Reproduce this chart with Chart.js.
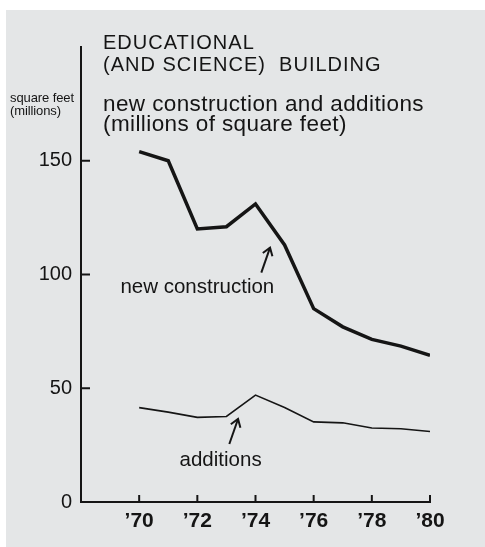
<!DOCTYPE html>
<html>
<head>
<meta charset="utf-8">
<script src="https://cdn.jsdelivr.net/npm/chart.js@4.4.1/dist/chart.umd.min.js"></script>
<style>
  body { margin: 0; background: #fff; }
  #wrap { position: relative; width: 485px; height: 547px; overflow: hidden; }
  #paper { position: absolute; left: 6px; top: 10px; right: 0; bottom: 0; background: #e4e6e7; }
  canvas { position: absolute; left: 0; top: 0; }
  .txt { position: absolute; font-family: "Liberation Sans", Arial, sans-serif; color: #151515; white-space: nowrap; }
  #title { left: 103px; top: 31px; font-size: 20px; line-height: 22.4px; letter-spacing: 1px; }
  #subtitle { left: 103px; top: 94px; font-size: 22.5px; line-height: 19.5px; letter-spacing: 0.4px; }
  #unit { left: 10px; top: 92px; font-size: 13px; line-height: 12.5px; letter-spacing: -0.1px; }
</style>
</head>
<body>
<div id="wrap">
  <div id="paper"></div>
  <canvas id="myChart" width="485" height="547"></canvas>
  <div class="txt" id="title">EDUCATIONAL<br>(AND SCIENCE)&nbsp; BUILDING</div>
  <div class="txt" id="subtitle">new construction and additions<br>(millions of square feet)</div>
  <div class="txt" id="unit">square feet<br>(millions)</div>
</div>
<script>
"use strict";

const years = [1970, 1971, 1972, 1973, 1974, 1975, 1976, 1977, 1978, 1979, 1980];
const newConstruction = [154, 150, 120, 121, 131, 113, 85, 77, 71.5, 68.5, 64.5];
const additions = [41.5, 39.5, 37.2, 37.6, 47, 41.5, 35.2, 34.8, 32.5, 32.2, 31];
const xTicks = [1970, 1972, 1974, 1976, 1978, 1980];
const yTicks = [0, 50, 100, 150];

const ink = "#151515";
const font = "'Liberation Sans', Arial, sans-serif";

// tick marks pointing into the plot, like the printed chart
const innerTicks = {
  id: "innerTicks",
  afterDraw(chart) {
    const ctx = chart.ctx;
    const x = chart.scales.x;
    const y = chart.scales.y;
    ctx.save();
    ctx.strokeStyle = ink;
    ctx.lineWidth = 2;
    yTicks.forEach((v) => {
      if (v === 0) return;
      const py = y.getPixelForValue(v);
      ctx.beginPath();
      ctx.moveTo(x.left, py);
      ctx.lineTo(x.left + 9, py);
      ctx.stroke();
    });
    xTicks.forEach((v) => {
      const px = x.getPixelForValue(v);
      ctx.beginPath();
      ctx.moveTo(px, y.bottom);
      ctx.lineTo(px, y.bottom - 7);
      ctx.stroke();
    });
    ctx.restore();
  },
};

// labels with little arrows
const notes = [
  { text: "new construction", at: [1972.0, 94.5], tail: [1974.2, 100.8], tip: [1974.5, 111.8] },
  { text: "additions", at: [1972.8, 18.5], tail: [1973.1, 25.5], tip: [1973.4, 36.5] },
];

const noteLabels = {
  id: "noteLabels",
  afterDraw(chart) {
    const ctx = chart.ctx;
    const x = chart.scales.x;
    const y = chart.scales.y;
    ctx.save();
    ctx.fillStyle = ink;
    ctx.strokeStyle = ink;
    ctx.font = "20.5px " + font;
    ctx.textAlign = "center";
    ctx.textBaseline = "middle";
    notes.forEach((n) => {
      ctx.fillText(n.text, x.getPixelForValue(n.at[0]), y.getPixelForValue(n.at[1]));
      const x0 = x.getPixelForValue(n.tail[0]);
      const y0 = y.getPixelForValue(n.tail[1]);
      const x1 = x.getPixelForValue(n.tip[0]);
      const y1 = y.getPixelForValue(n.tip[1]);
      ctx.lineWidth = 2;
      ctx.beginPath();
      ctx.moveTo(x0, y0);
      ctx.lineTo(x1, y1);
      ctx.stroke();
      const a = Math.atan2(y1 - y0, x1 - x0);
      ctx.beginPath();
      ctx.moveTo(x1 - 9 * Math.cos(a - 0.6), y1 - 9 * Math.sin(a - 0.6));
      ctx.lineTo(x1, y1);
      ctx.lineTo(x1 - 9 * Math.cos(a + 0.6), y1 - 9 * Math.sin(a + 0.6));
      ctx.stroke();
    });
    ctx.restore();
  },
};

const ctx = document.getElementById("myChart");
const myChart = new Chart(ctx, {
  type: "line",
  data: {
    datasets: [
      {
        label: "new construction",
        data: years.map((yr, i) => ({ x: yr, y: newConstruction[i] })),
        borderColor: ink,
        borderWidth: 3.5,
        pointRadius: 0,
        borderJoinStyle: "miter",
      },
      {
        label: "additions",
        data: years.map((yr, i) => ({ x: yr, y: additions[i] })),
        borderColor: ink,
        borderWidth: 1.6,
        pointRadius: 0,
      },
    ],
  },
  options: {
    responsive: false,
    animation: false,
    layout: { padding: { top: 47, right: 55, left: 0, bottom: 0 } },
    plugins: {
      legend: { display: false },
      tooltip: { enabled: false },
    },
    scales: {
      x: {
        type: "linear",
        min: 1968,
        max: 1980,
        afterBuildTicks: (s) => {
          s.ticks = xTicks.map((v) => ({ value: v }));
        },
        afterFit: (s) => {
          s.height = 45;
        },
        grid: { display: false, drawTicks: false, tickLength: 0 },
        border: { display: true, color: ink, width: 2 },
        ticks: {
          color: ink,
          padding: 7,
          font: { family: font, size: 21, weight: "bold" },
          callback: (v) => "\u2019" + String(v).slice(2),
        },
      },
      y: {
        min: 0,
        max: 200,
        afterBuildTicks: (s) => {
          s.ticks = yTicks.map((v) => ({ value: v }));
        },
        afterFit: (s) => {
          s.width = 81;
        },
        grid: { display: false, drawTicks: false, tickLength: 0 },
        border: { display: true, color: ink, width: 2 },
        ticks: {
          color: ink,
          padding: 9,
          font: { family: font, size: 20 },
        },
      },
    },
  },
  plugins: [innerTicks, noteLabels],
});
</script>
</body>
</html>
